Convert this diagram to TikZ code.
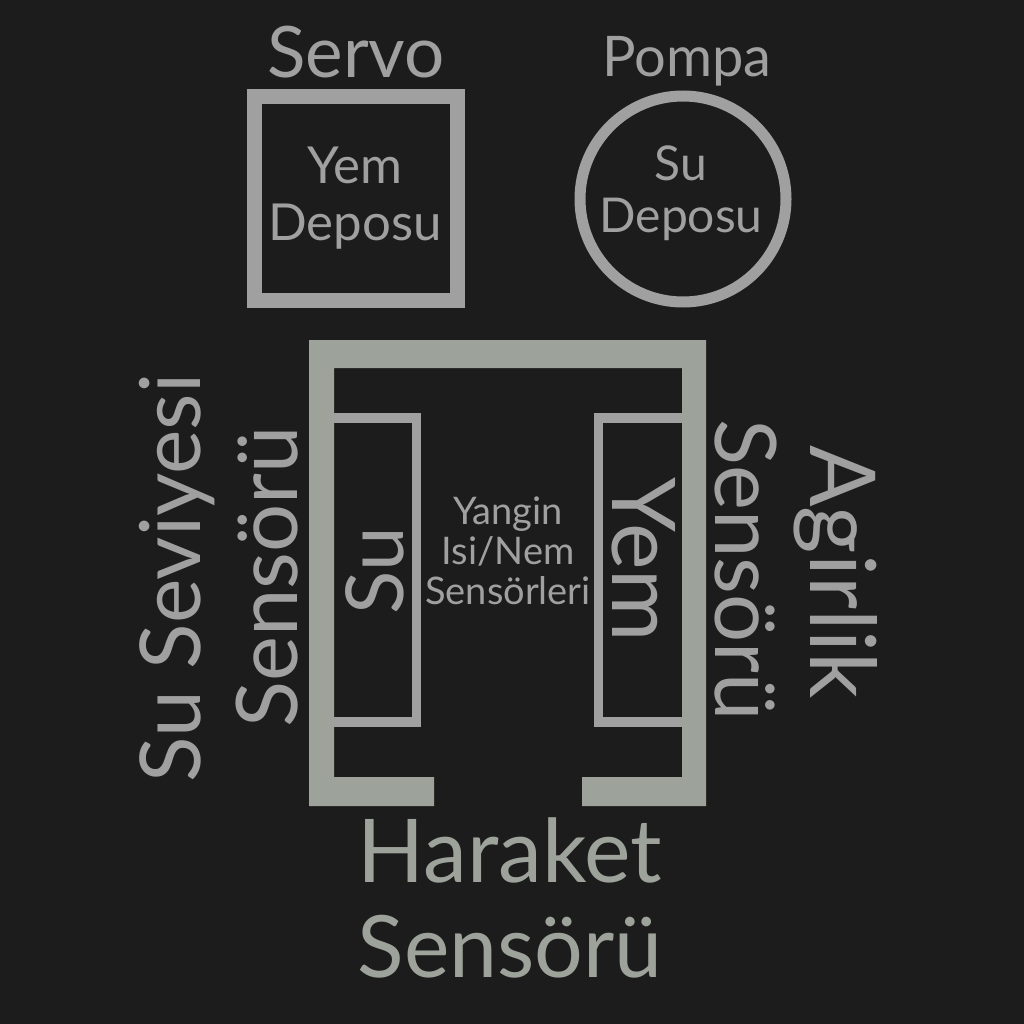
\documentclass[tikz,border=0pt]{standalone}
\usepackage{fontspec}
\setmainfont{Lato}

\definecolor{zemin}{HTML}{1C1C1C}
\definecolor{gri}{HTML}{A0A0A0}
\definecolor{duvar}{HTML}{9DA39B}

\tikzset{
    yazi/.style={text=gri, inner sep=0pt, align=center},
    tek/.style={yazi, anchor=base},
    depo/.style={draw=gri, inner sep=0pt},
    yalak/.style={draw=gri, line width=9.5pt, line cap=butt, line join=miter}
}

\begin{document}
\begin{tikzpicture}[x=1pt,y=-1pt]
    \fill[zemin] (0,0) rectangle (1024,1024);
    \useasboundingbox (0,0) rectangle (1024,1024);

    % ust: depolar
    \node[tek, font=\fontsize{71}{71}\selectfont] (servo) at (356,78) {Servo};
    \node[tek, font=\fontsize{56}{56}\selectfont] (pompa) at (687,77) {Pompa};

    \node[depo, line width=15pt, rectangle, minimum size=203pt] (yemdeposu) at (356,198.5) {};
    \node[yazi, font=\fontsize{51}{57}\selectfont] (yemyazi) at (355,198.5) {Yem\\Deposu};

    \node[depo, line width=11pt, circle, minimum size=206pt] (sudeposu) at (683,199) {};
    \node[yazi, font=\fontsize{48}{52}\selectfont] (suyazi) at (681,193) {Su\\Deposu};

    % kafes
    \fill[duvar] (434,806) -- (309,806) -- (309,340) -- (706,340) -- (706,806)
        -- (582,806) -- (582,777) -- (682,777) -- (682,368) -- (334,368)
        -- (334,777) -- (434,777) -- cycle;

    \draw[yalak] (334,418) -- (416.5,418) -- (416.5,722) -- (334,722);
    \draw[yalak] (682,418) -- (598.5,418) -- (598.5,722) -- (682,722);

    \node[tek, rotate=90, font=\fontsize{80}{80}\selectfont] (su) at (403,571) {Su};
    \node[tek, rotate=-90, font=\fontsize{88}{88}\selectfont] (yem) at (612,560) {Yem};
    \node[yazi, font=\fontsize{38}{40}\selectfont] (yangin) at (508,551) {Yangin\\Isi/Nem\\Sensörleri};

    % yan etiketler
    \node[tek, rotate=90, font=\fontsize{84}{84}\selectfont] (suseviye) at (200,578) {Su Seviyesi};
    \node[tek, rotate=90, font=\fontsize{85}{85}\selectfont] (susensor) at (297,577) {Sensörü};
    \node[tek, rotate=-90, font=\fontsize{85}{85}\selectfont] (agsensor) at (715,570) {Sensörü};
    \node[tek, rotate=-90, font=\fontsize{91}{91}\selectfont] (agirlik) at (810,572) {Agirlik};

    % alt
    \node[tek, text=duvar, font=\fontsize{88}{88}\selectfont] (haraket) at (510,882) {Haraket};
    \node[tek, text=duvar, font=\fontsize{86}{86}\selectfont] (harsensor) at (510,977) {Sensörü};
\end{tikzpicture}
\end{document}
